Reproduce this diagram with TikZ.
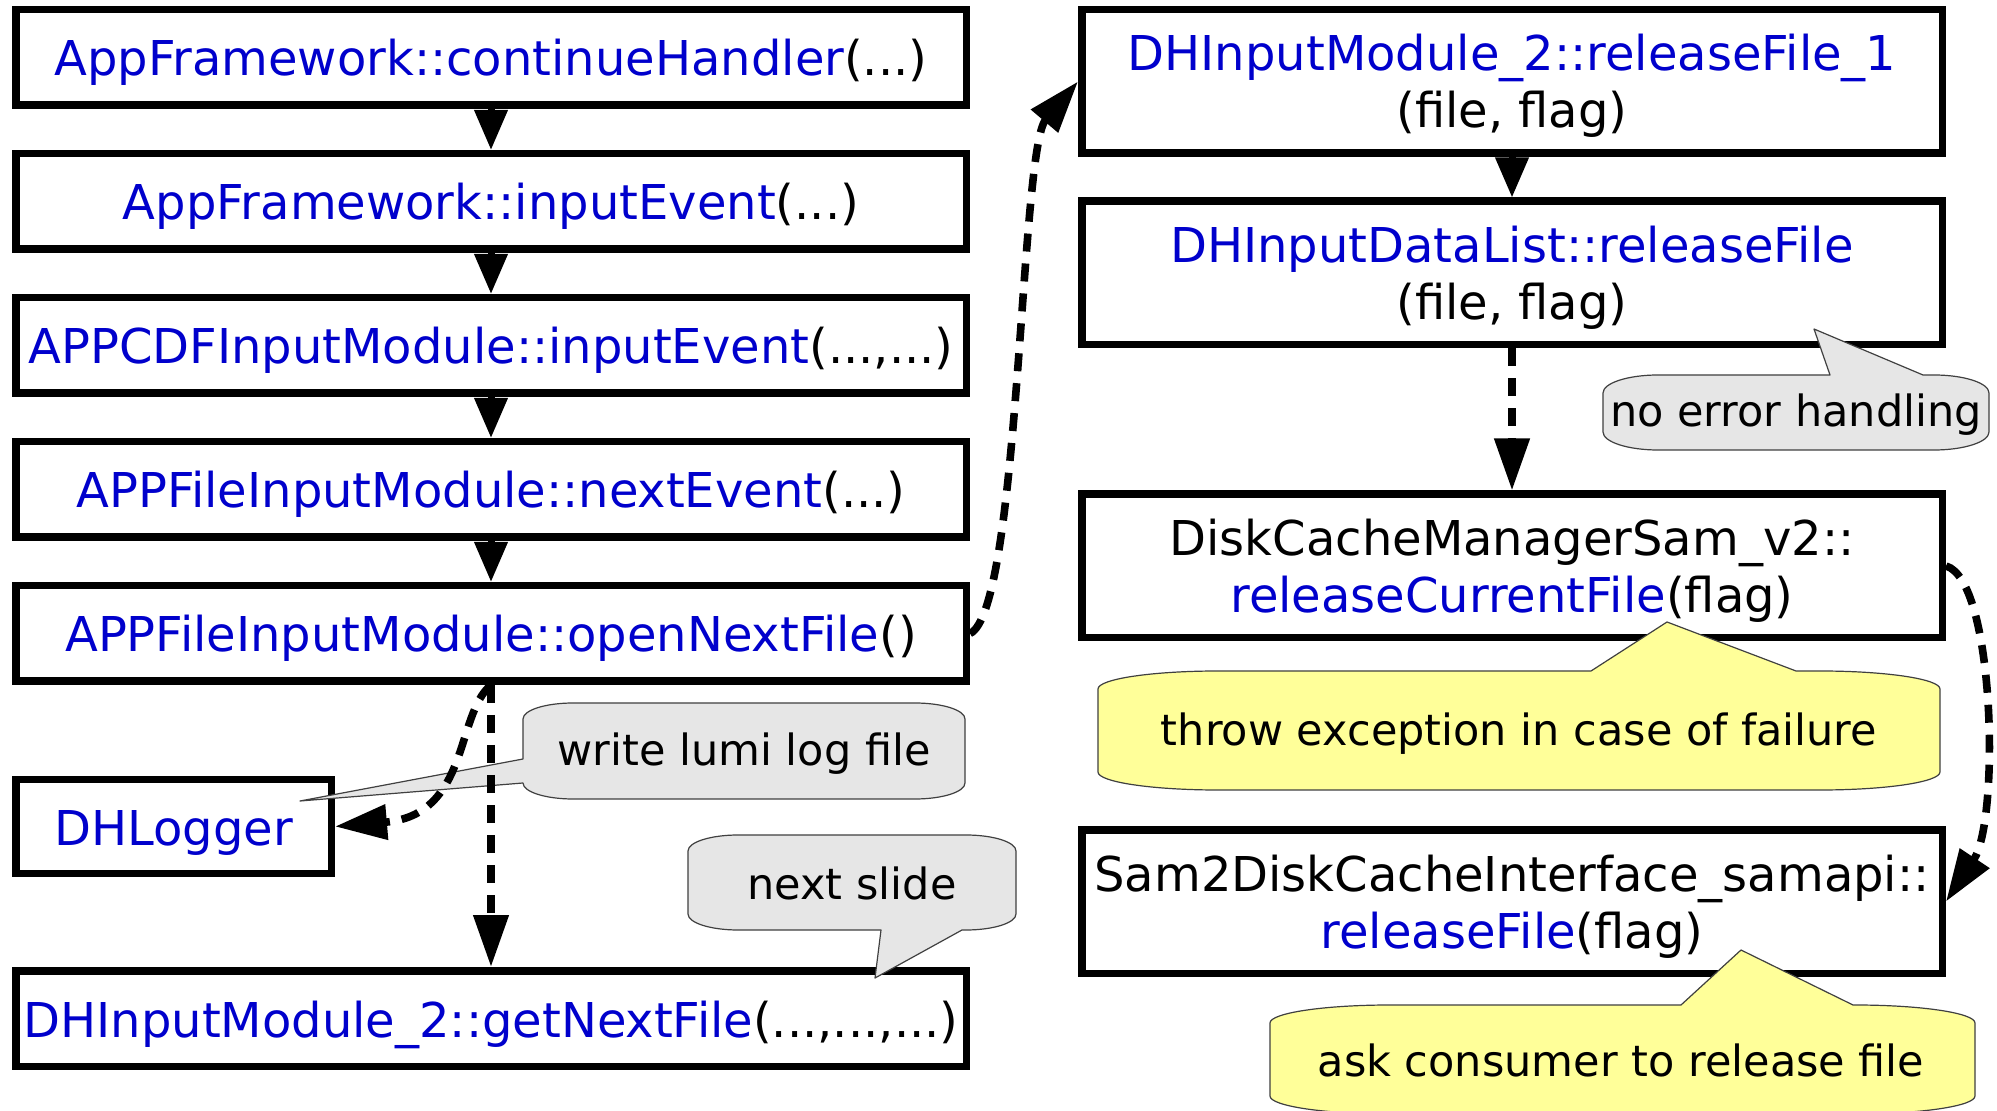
\documentclass[tikz,border=0pt]{standalone}
\usepackage{fontspec}
\setmainfont{DejaVu Sans}
\usetikzlibrary{arrows.meta}
\definecolor{fblue}{RGB}{0,0,204}
\definecolor{cgray}{RGB}{230,230,230}
\definecolor{cyellow}{RGB}{255,255,153}
\begin{document}
\begin{tikzpicture}[x=0.5pt,y=-0.5pt,
  fbox/.style={draw, line width=3.75pt, inner sep=0pt, align=center,
    font=\fontsize{24}{28.5}\selectfont, minimum width=475.25pt, minimum height=47.75pt,
    text height=23pt, text depth=4.5pt},
  rbox/.style={draw, line width=3.75pt, inner sep=0pt, align=center,
    font=\fontsize{24}{28.5}\selectfont, minimum width=430.25pt, minimum height=71.75pt,
    text height=51pt, text depth=4.5pt},
  ctext/.style={font=\fontsize{21.5}{25}\selectfont, inner sep=0pt, anchor=base},
  cshape/.style={draw=black!75, line width=0.6pt, line join=round},
  solidarrow/.style={line width=3.5pt, -{Triangle[length=20pt,width=16pt]}},
  dasharrow/.style={line width=3.8pt, dash pattern=on 9pt off 6pt, -{Triangle[length=26pt,width=17pt]}},
]
\useasboundingbox (0,0) rectangle (1997,1111);
\fill[white] (0,0) rectangle (1997,1111);

% left column
\node[fbox] (b1) at (491,57.5) {\textcolor{fblue}{AppFramework::continueHandler}(...)};
\node[fbox] (b2) at (491,201.5) {\textcolor{fblue}{AppFramework::inputEvent}(...)};
\node[fbox] (b3) at (491,345.5) {\textcolor{fblue}{APPCDFInputModule::inputEvent}(...,...)};
\node[fbox] (b4) at (491,489.5) {\textcolor{fblue}{APPFileInputModule::nextEvent}(...)};
\node[fbox] (b5) at (491,633.5) {\textcolor{fblue}{APPFileInputModule::openNextFile}()};
\node[fbox, minimum width=157.75pt, minimum height=46.75pt] (logger) at (173.5,826.5) {\textcolor{fblue}{DHLogger}};
\node[fbox] (getnext) at (491,1018.5) {\textcolor{fblue}{DHInputModule\_2::getNextFile}(...,...,...)};

% right column
\node[rbox] (r1) at (1512,81.5) {\textcolor{fblue}{DHInputModule\_2::releaseFile\_1}\\(file, flag)};
\node[rbox] (r2) at (1512,273) {\textcolor{fblue}{DHInputDataList::releaseFile}\\(file, flag)};
\node[rbox] (r3) at (1512,566) {DiskCacheManagerSam\_v2::\\\textcolor{fblue}{releaseCurrentFile}(flag)};
\node[rbox] (r4) at (1512,901.5) {Sam2DiskCacheInterface\_samapi::\\\textcolor{fblue}{releaseFile}(flag)};

% callouts
\filldraw[cshape, fill=cgray] (523,719) .. controls +(0,-9) and +(-27,0) .. (573,703) -- (915,703)
  .. controls +(27,0) and +(0,-9) .. (965,719) -- (965,783)
  .. controls +(0,9) and +(27,0) .. (915,799) -- (573,799)
  .. controls +(-27,0) and +(0,9) .. (523,783) -- (300,801) -- (523,759) -- cycle;
\node[ctext] (t1) at (744,766) {write lumi log file};

\filldraw[cshape, fill=cgray] (688,851) .. controls +(0,-9) and +(-27,0) .. (738,835) -- (966,835)
  .. controls +(27,0) and +(0,-9) .. (1016,851) -- (1016,914)
  .. controls +(0,9) and +(27,0) .. (966,930) -- (962,930) -- (875,978) -- (881,930) -- (738,930)
  .. controls +(-27,0) and +(0,9) .. (688,914) -- cycle;
\node[ctext] (t2) at (852,899) {next slide};

\filldraw[cshape, fill=cgray] (1603,393) .. controls +(0,-10) and +(-30,0) .. (1658,375) -- (1830,375)
  -- (1814,329) -- (1923,375) -- (1934,375)
  .. controls +(30,0) and +(0,-10) .. (1989,393) -- (1989,432)
  .. controls +(0,10) and +(30,0) .. (1934,450) -- (1658,450)
  .. controls +(-30,0) and +(0,10) .. (1603,432) -- cycle;
\node[ctext] (t3) at (1796,426.5) {no error handling};

\filldraw[cshape, fill=cyellow] (1098,689) .. controls +(0,-10) and +(-66,0) .. (1218,671) -- (1591,671)
  -- (1667,622) -- (1796,671) -- (1820,671)
  .. controls +(66,0) and +(0,-10) .. (1940,689) -- (1940,772)
  .. controls +(0,10) and +(66,0) .. (1820,790) -- (1218,790)
  .. controls +(-66,0) and +(0,10) .. (1098,772) -- cycle;
\node[ctext] (t4) at (1519,746) {throw exception in case of failure};

\filldraw[cshape, fill=cyellow] (1270,1023) .. controls +(0,-10) and +(-66,0) .. (1390,1005) -- (1681,1005)
  -- (1741,950) -- (1853,1005) -- (1855,1005)
  .. controls +(66,0) and +(0,-10) .. (1975,1023) -- (1975,1096)
  .. controls +(0,10) and +(66,0) .. (1855,1114) -- (1390,1114)
  .. controls +(-66,0) and +(0,10) .. (1270,1096) -- cycle;
\node[ctext] (t5) at (1621,1076) {ask consumer to release file};

% solid arrows
\draw[solidarrow] (b1.south) -- (b2.north);
\draw[solidarrow] (b2.south) -- (b3.north);
\draw[solidarrow] (b3.south) -- (b4.north);
\draw[solidarrow] (b4.south) -- (b5.north);
\draw[solidarrow] (r1.south) -- (r2.north);

% dashed arrows
\draw[dasharrow] (r2.south) -- (r3.north);
\draw[dasharrow] (b5.south) -- (getnext.north);
\draw[dasharrow] (b5.south) .. controls (455,715) and (470,815) .. (logger.east);
\draw[dasharrow] (b5.east) .. controls (1020,610) and (1020,150) .. (r1.west);
\draw[dasharrow] (r3.east) .. controls (1995,580) and (2000,820) .. (r4.east);
\end{tikzpicture}
\end{document}
